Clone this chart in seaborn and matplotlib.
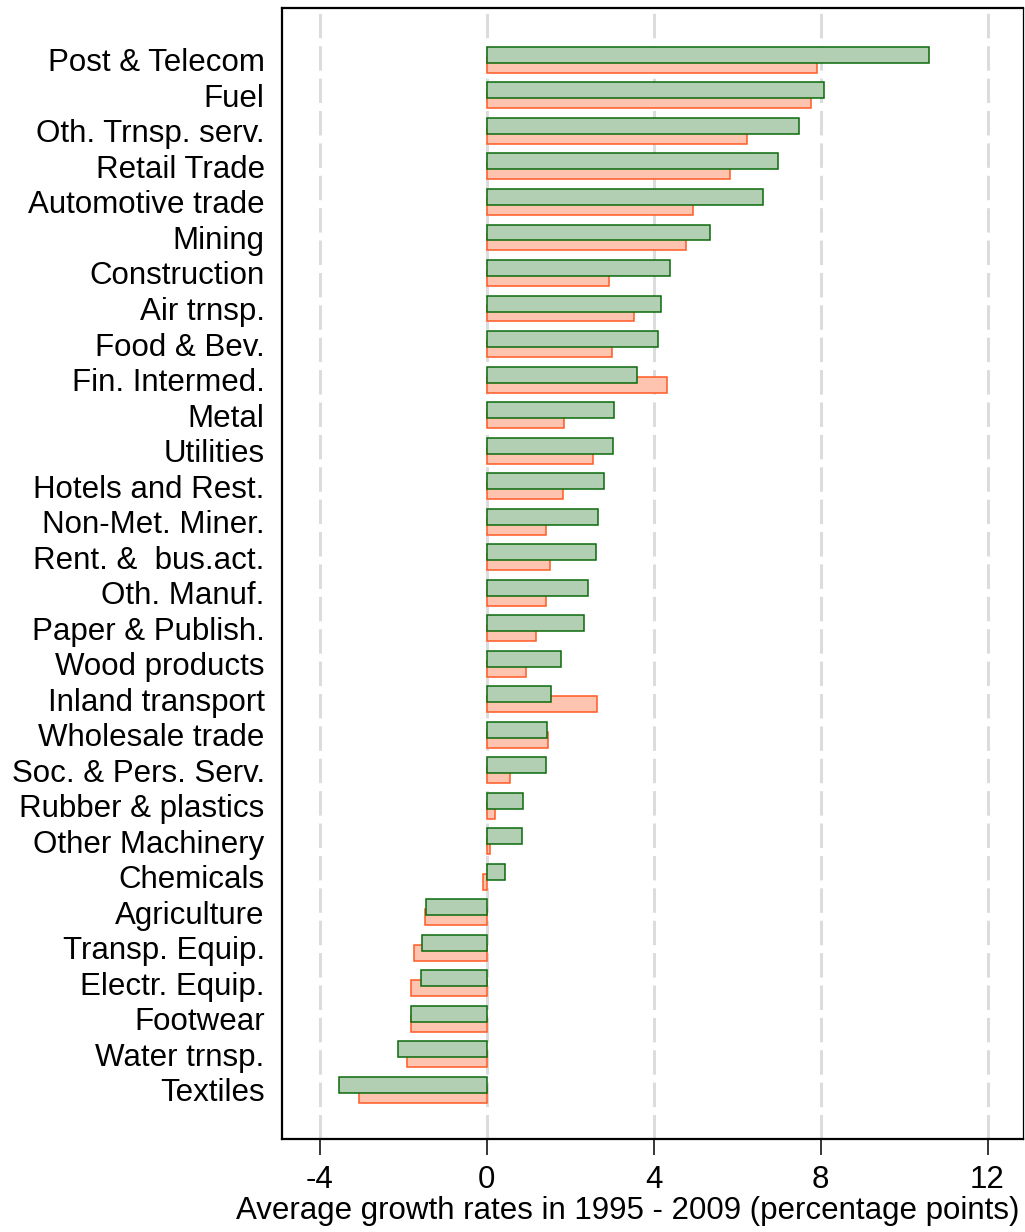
import numpy as np
import pandas as pd
import matplotlib
matplotlib.use("Agg")
import matplotlib.pyplot as plt
import seaborn as sns

sectors = [
    "Post & Telecom", "Fuel", "Oth. Trnsp. serv.", "Retail Trade",
    "Automotive trade", "Mining", "Construction", "Air trnsp.",
    "Food & Bev.", "Fin. Intermed.", "Metal", "Utilities",
    "Hotels and Rest.", "Non-Met. Miner.", "Rent. &  bus.act.",
    "Oth. Manuf.", "Paper & Publish.", "Wood products",
    "Inland transport", "Wholesale trade", "Soc. & Pers. Serv.",
    "Rubber & plastics", "Other Machinery", "Chemicals", "Agriculture",
    "Transp. Equip.", "Electr. Equip.", "Footwear", "Water trnsp.",
    "Textiles",
]

# first series (green, drawn on top)
growth_a = [
    10.59, 8.09, 7.49, 6.99, 6.62, 5.36, 4.40, 4.17, 4.11, 3.60,
    3.05, 3.02, 2.81, 2.66, 2.61, 2.44, 2.33, 1.78, 1.54, 1.44,
    1.43, 0.87, 0.86, 0.45, -1.44, -1.54, -1.58, -1.82, -2.11, -3.53,
]

# second series (orange, drawn underneath)
growth_b = [
    7.92, 7.76, 6.25, 5.84, 4.95, 4.77, 2.94, 3.52, 3.01, 4.32,
    1.86, 2.56, 1.84, 1.43, 1.51, 1.42, 1.19, 0.94, 2.64, 1.48,
    0.56, 0.20, 0.09, -0.09, -1.47, -1.73, -1.82, -1.80, -1.90, -3.06,
]

x_ticks = [-4, 0, 4, 8, 12]
x_label = "Average growth rates in 1995 - 2009 (percentage points)"

sns.set_theme(style="white")
plt.rcParams["font.family"] = ["Liberation Sans", "DejaVu Sans"]
plt.rcParams["text.color"] = "black"
plt.rcParams["axes.labelcolor"] = "black"
plt.rcParams["xtick.color"] = "black"
plt.rcParams["ytick.color"] = "black"

FS = 22.5
shift = 0.14
bar_h = 0.45

pos = np.arange(len(sectors))
df_a = pd.DataFrame({"pos": pos - shift, "value": growth_a})
df_b = pd.DataFrame({"pos": pos + shift, "value": growth_b})

fig = plt.figure(figsize=(10.25, 12.32), dpi=100)
ax = fig.add_axes([282 / 1025, 1 - 1139 / 1232, 741 / 1025, 1131 / 1232])

sns.barplot(data=df_b, x="value", y="pos", orient="y", native_scale=True,
            width=bar_h, color="#ffc4b0", saturation=1, errorbar=None,
            edgecolor="#ff5a23", linewidth=1.1, ax=ax)
sns.barplot(data=df_a, x="value", y="pos", orient="y", native_scale=True,
            width=bar_h, color="#b3cfb3", saturation=1, errorbar=None,
            edgecolor="#0b6a0b", linewidth=1.1, ax=ax)

ax.set_xlim(-4.90, 12.85)
ax.set_ylim(30.38, -1.46)

ax.set_xticks(x_ticks)
ax.set_xticklabels([str(t) for t in x_ticks], fontsize=FS, color="black")
ax.set_yticks(pos)
ax.set_yticklabels(sectors, fontsize=FS, color="black")

ax.tick_params(axis="x", direction="out", length=11.5, width=1.1,
               color="black", pad=7, bottom=True)
ax.tick_params(axis="y", length=0, pad=12.5, left=False)

ax.set_axisbelow(True)
ax.grid(False)
ax.xaxis.grid(True, color="#dcdcdc", linewidth=2.2, linestyle=(0, (8, 2.6)))

for side in ["left", "top", "bottom"]:
    ax.spines[side].set_visible(True)
    ax.spines[side].set_color("black")
    ax.spines[side].set_linewidth(1.6)
ax.spines["right"].set_visible(True)
ax.spines["right"].set_color("black")
ax.spines["right"].set_linewidth(0.9)

ax.set_ylabel("")
ax.set_xlabel(x_label, fontsize=FS, color="black")
ax.xaxis.set_label_coords(0.467, -0.050)

fig.savefig("out.png", dpi=100)
